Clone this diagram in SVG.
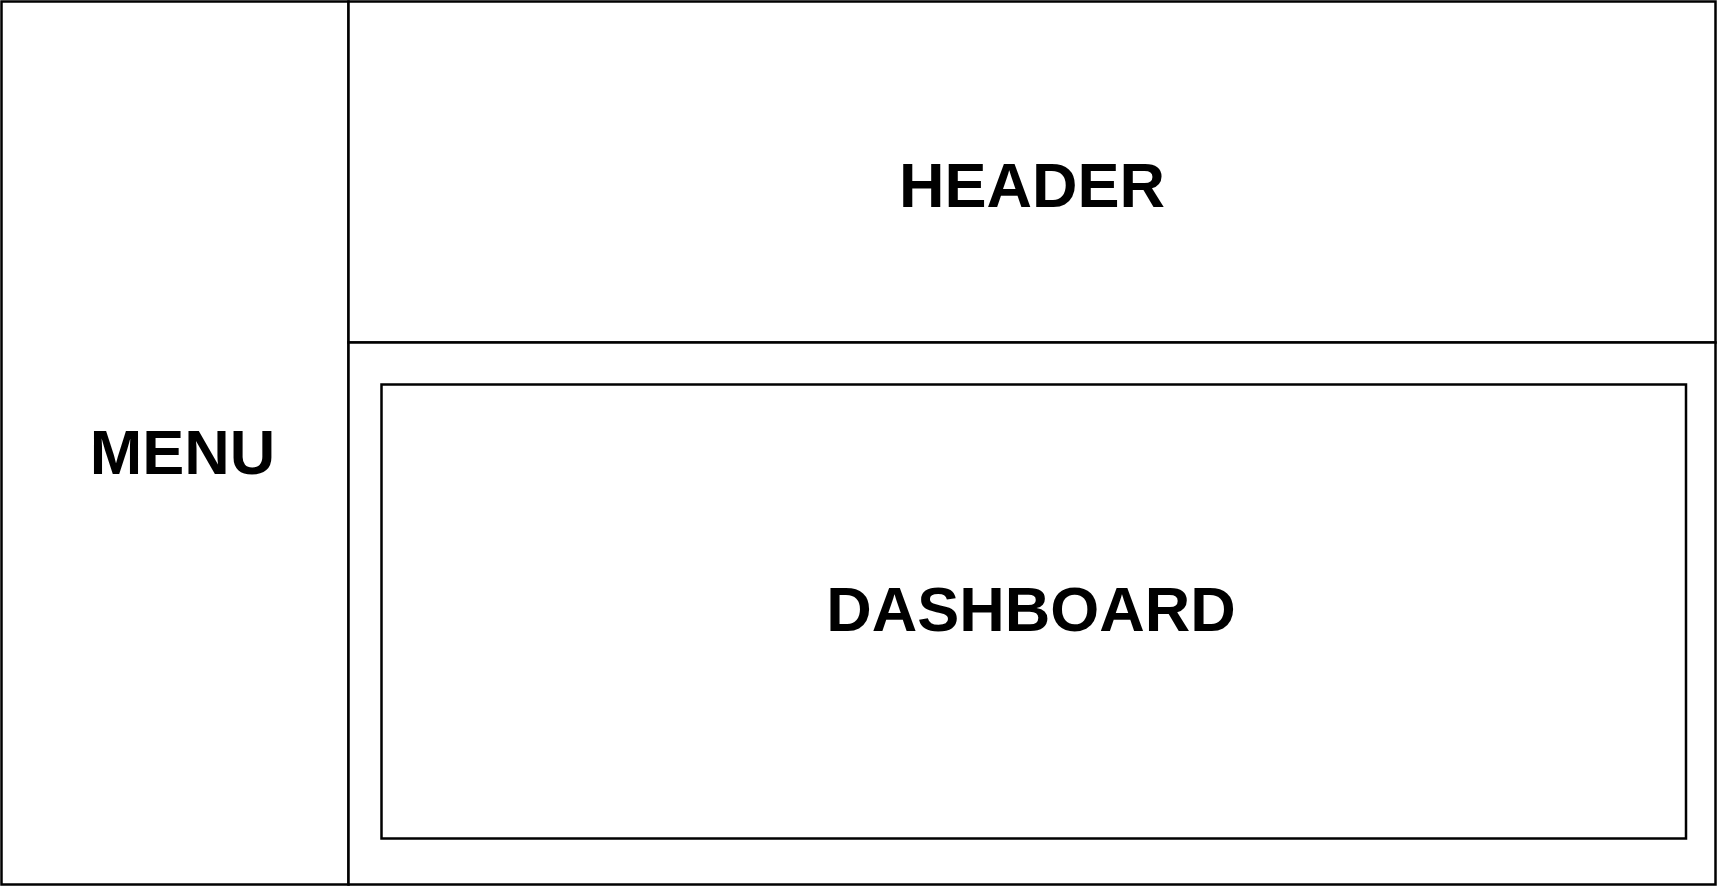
<svg xmlns="http://www.w3.org/2000/svg" width="1717" height="887" viewBox="0 0 1717 887">
<style>
.box{fill:#fff;stroke:#000;stroke-width:2.5}
.lbl{font-family:"Liberation Sans",Arial,sans-serif;font-weight:bold;font-size:63px;fill:#000;text-anchor:middle}
</style>
<rect width="1717" height="887" fill="#fff"/>
<g id="menu">
<rect class="box" x="1.5" y="1.5" width="347" height="883"/>
<text class="lbl" x="182.5" y="474">MENU</text>
</g>
<g id="header">
<rect class="box" x="348.5" y="1.5" width="1367" height="341"/>
<text class="lbl" x="1032" y="207">HEADER</text>
</g>
<g id="content">
<rect class="box" x="348.5" y="342.5" width="1367" height="542"/>
</g>
<g id="dashboard">
<rect class="box" x="381.5" y="384.5" width="1304.5" height="454"/>
<text class="lbl" x="1031" y="631">DASHBOARD</text>
</g>
<g id="connectors"/>
</svg>
